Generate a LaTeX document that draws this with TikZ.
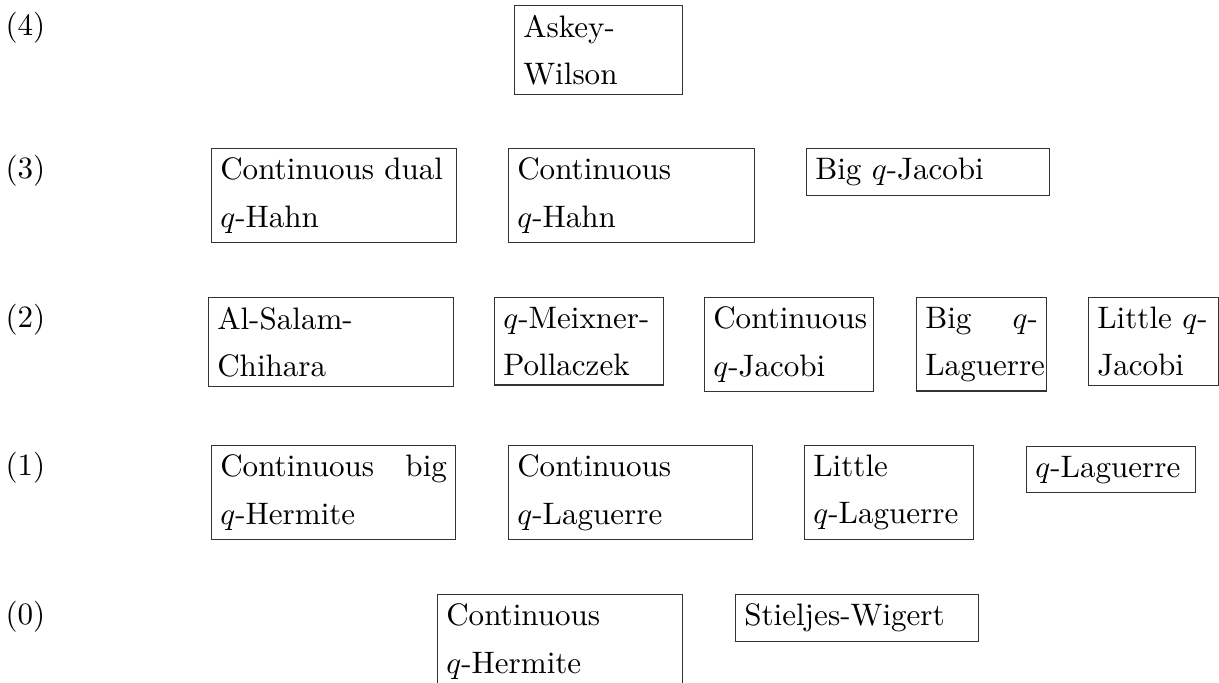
\documentclass[tikz,border=0pt]{standalone}
\newcommand\boxfont{\fontsize{10}{15.2}\selectfont\hyphenpenalty=10000\relax\exhyphenpenalty=10000\relax}
\begin{document}
\begin{tikzpicture}[x=0.322pt,y=-0.322pt,
  box/.style={draw=black!80, line width=0.4pt, anchor=north west, align=left,
    inner xsep=2.8pt, inner ysep=3pt, text width=#1, font=\boxfont},
  lvl/.style={anchor=base west, inner sep=0pt, font=\fontsize{10}{12}\selectfont}]
\clip (0,0) rectangle (1219,682);
% level labels
\node[lvl] (l4) at (5,35.7) {(4)};
\node[lvl] (l3) at (5,178.7) {(3)};
\node[lvl] (l2) at (5,327.7) {(2)};
\node[lvl] (l1) at (5,475.7) {(1)};
\node[lvl] (l0) at (5,624.7) {(0)};
% level 4
\node[box=48.5pt] (aw) at (514,5) {Askey-\\Wilson};
% level 3
\node[box=73.29pt] (cdqh) at (211,148) {Continuous dual\\$q$-Hahn};
\node[box=73.61pt] (cqh) at (508,148) {Continuous\\$q$-Hahn};
\node[box=72.65pt] (bqj) at (806,148) {Big $q$-Jacobi};
% level 2
\node[box=73.29pt] (asc) at (208,297) {Al-Salam-\\Chihara};
\node[box=48.82pt] (qmp) at (494,297) {$q$-Meixner-\\Pollaczek};
\node[box=48.82pt] (cqj) at (704,297) {Continuous\\$q$-Jacobi};
\node[box=36.26pt] (bql) at (916,297) {Big \hfill $q$-\\Laguerre};
\node[box=36.26pt] (lqj) at (1088,297) {Little $q$-\\Jacobi};
% level 1
\node[box=72.97pt] (cbqh) at (211,445) {Continuous \hfill big\\$q$-Hermite};
\node[box=72.97pt] (cql) at (508,445) {Continuous\\$q$-Laguerre};
\node[box=48.82pt] (lql) at (804,445) {Little\\$q$-Laguerre};
\node[box=48.82pt] (ql) at (1026,446) {$q$-Laguerre};
% level 0
\node[box=73.29pt] (cqhe) at (437,594) {Continuous\\$q$-Hermite};
\node[box=72.65pt] (sw) at (735,594) {Stieljes-Wigert};
\end{tikzpicture}
\end{document}
